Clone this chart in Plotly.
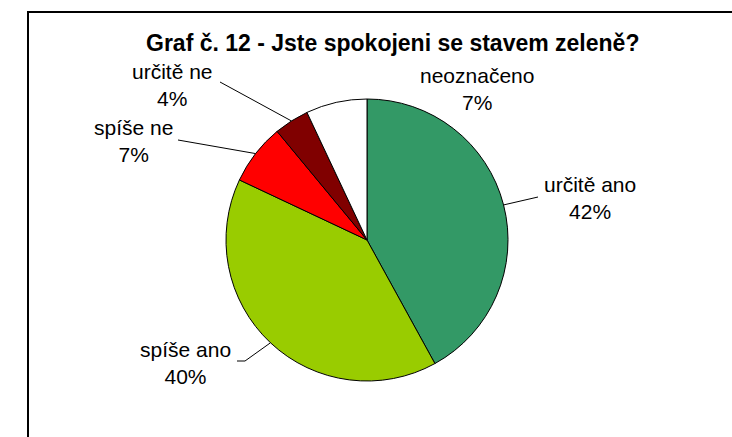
import math
import plotly.graph_objects as go

# ---- data ----
categories = ["určitě ano", "spíše ano", "spíše ne", "určitě ne", "neoznačeno"]
values = [42, 40, 7, 4, 7]
colors = ["#339966", "#99CC00", "#FF0000", "#800000", "#FFFFFF"]
title_text = "Graf č. 12 - Jste spokojeni se stavem zeleně?"

# ---- layout constants (pixels) ----
W, H = 732, 437
CX, CY, R = 367, 240, 141
label_pos = {            # centre of label text block
    "určitě ano": (590, 198),
    "spíše ano": (185, 363),
    "spíše ne": (133, 141),
    "určitě ne": (172, 85),
    "neoznačeno": (477, 89),
}
leader_tail = {          # label-side end of leader lines (list of points)
    "určitě ano": [(538, 197)],
    "spíše ano": [(245, 361), (237, 361)],
    "spíše ne": [(178, 140)],
    "určitě ne": [(220, 82)],
}

def px(x):
    return x / W

def py(y):
    return 1 - y / H

fig = go.Figure(go.Pie(
    labels=categories, values=values, sort=False, direction="clockwise",
    rotation=0, textinfo="none", hoverinfo="label+percent",
    marker=dict(colors=colors, line=dict(color="black", width=1)),
    domain=dict(x=[px(CX - R), px(CX + R)], y=[py(CY + R), py(CY - R)]),
    showlegend=False,
))

total = sum(values)
shapes = []
annotations = []
cum = 0
for cat, v in zip(categories, values):
    mid = (cum + v / 2) / total * 2 * math.pi
    cum += v
    ax_ = CX + R * math.sin(mid)
    ay_ = CY - R * math.cos(mid)
    pct = round(v / total * 100)
    lx, ly = label_pos[cat]
    annotations.append(dict(
        x=px(lx), y=py(ly), xref="paper", yref="paper", showarrow=False,
        text=f"{cat}<br>{pct}%", xanchor="center", yanchor="middle",
        font=dict(family="Liberation Sans, Arial", size=21, color="black"),
    ))
    if cat in leader_tail:
        pts = [(ax_, ay_)] + leader_tail[cat]
        for (x0, y0), (x1, y1) in zip(pts[:-1], pts[1:]):
            shapes.append(dict(type="line", xref="paper", yref="paper",
                               x0=px(x0), y0=py(y0), x1=px(x1), y1=py(y1),
                               line=dict(color="black", width=1)))

annotations.append(dict(
    x=px(392), y=py(43), xref="paper", yref="paper", showarrow=False,
    text=f"<b>{title_text}</b>", xanchor="center", yanchor="middle",
    font=dict(family="Liberation Sans, Arial", size=23, color="black"),
))

# outer chart frame
shapes.append(dict(type="rect", xref="paper", yref="paper",
                   x0=px(28), y0=py(12), x1=px(W + 5), y1=py(H + 5),
                   line=dict(color="black", width=2), fillcolor="rgba(0,0,0,0)"))

fig.update_layout(
    width=W, height=H, margin=dict(l=0, r=0, t=0, b=0),
    paper_bgcolor="white", plot_bgcolor="white",
    shapes=shapes, annotations=annotations,
)
fig.write_html(
    "out.html",
    config={"displayModeBar": False},
    post_script="document.body.style.margin='0';document.body.style.overflow='hidden';",
)
